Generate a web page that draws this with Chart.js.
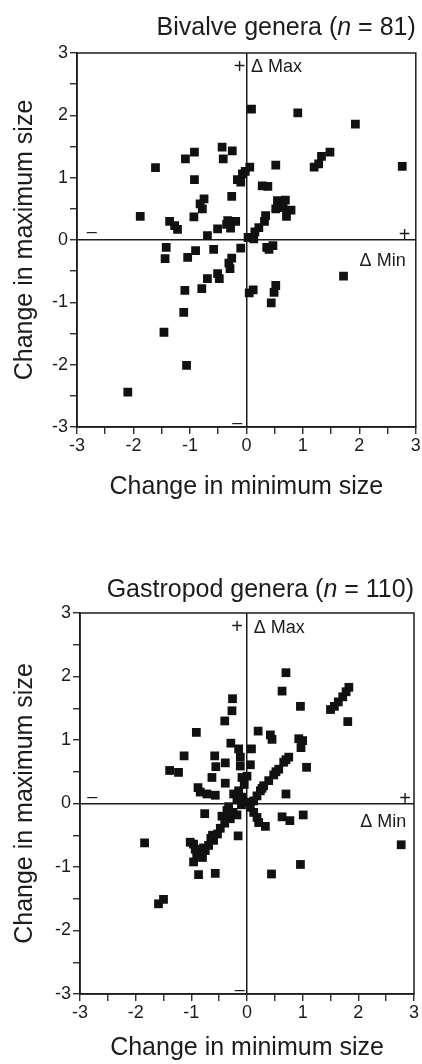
<!DOCTYPE html>
<html>
<head>
<meta charset="utf-8">
<script src="https://cdn.jsdelivr.net/npm/chart.js@4"></script>
<style>
    body { margin: 0; background: #fff; width: 422px; height: 1064px; overflow: hidden; position: relative; }
    .box { position: absolute; left: 0; width: 422px; }
</style>
</head>
<body>
<div class="box" style="top:0;height:520px"><canvas id="bivalveChart"></canvas></div>
<div class="box" style="top:545px;height:519px"><canvas id="gastropodChart"></canvas></div>
<script>
// Bivalve genera: change in minimum size (x) and maximum size (y)
const bivalveMin = [0.09, 0.91, 1.93, -1.08, -0.92, -0.43, -0.25, -0.41, 1.33, 1.48,
    -1.61, 0.06, 0.52, 1.20, 1.28, 2.76, -0.92, -0.16, -0.07, -0.02,
    -0.10, 0.28, 0.38, -0.26, -0.75, -0.82, -0.78, -0.93, -1.88, -1.36,
    -1.27, -1.22, -0.33, -0.19, -0.28, -0.51, -0.69, 0.55, 0.69, 0.65,
    0.79, 0.71, 0.52, 0.34, 0.32, 0.22, 0.15, 0.03, -1.42, -1.44,
    -1.04, -0.90, -0.58, -0.10, 0.36, 0.47, -0.26, -0.31, -0.29, -0.51,
    -0.69, -0.48, -0.79, -1.09, -1.11, 0.05, 0.12, 0.52, 0.49, 0.44,
    1.72, -1.46, -1.06, -2.10, 0.13, 0.40, 0.60, -0.35];
const bivalveMax = [2.10, 2.04, 1.86, 1.30, 1.41, 1.49, 1.43, 1.30, 1.34, 1.41,
    1.16, 1.17, 1.20, 1.17, 1.22, 1.18, 0.97, 0.97, 1.06, 1.10,
    0.93, 0.87, 0.86, 0.70, 0.66, 0.58, 0.50, 0.37, 0.38, 0.30,
    0.23, 0.17, 0.31, 0.30, 0.19, 0.18, 0.07, 0.63, 0.64, 0.52,
    0.48, 0.38, 0.50, 0.39, 0.30, 0.20, 0.13, 0.04, -0.12, -0.30,
    -0.28, -0.17, -0.15, -0.13, -0.12, -0.09, -0.29, -0.37, -0.46, -0.54,
    -0.62, -0.62, -0.78, -0.81, -1.16, -0.85, -0.80, -0.73, -0.84, -1.01,
    -0.58, -1.48, -2.01, -2.44, 0.02, -0.15, 0.58, 0.25];

// Gastropod genera
const gastropodMin = [0.70, 0.63, -0.26, 1.83, 1.78, 1.72, 1.64, 1.57, 1.50, -0.27,
    -0.40, 0.96, 1.81, -0.91, 0.20, 0.42, 0.45, 0.93, 1.00, 0.97,
    -0.29, -0.15, 0.08, -1.13, -0.58, -0.39, -0.56, -0.12, -0.12, 0.06,
    0.75, 0.66, 0.57, 0.48, 0.39, 0.30, 0.24, 0.18, 0.12, 1.07,
    -1.39, -1.23, -0.63, -0.09, 0.00, -0.39, -0.88, -0.84, -0.72, -0.57,
    -0.24, -0.15, -0.18, -0.09, 0.70, 0.00, 0.06, 0.12, 0.18, 0.21,
    0.33, 0.63, 0.77, 1.01, -0.76, -0.18, -0.36, -0.30, -0.40, -0.48,
    -0.53, -0.16, -0.60, -0.69, -0.78, -0.96, -1.02, -0.90, -1.84, 2.77,
    -0.93, -0.75, -0.90, -0.96, -0.87, -0.57, -1.59, -1.50, 0.44, 0.96,
    -0.33, -0.45, -0.05, -0.80, -0.65, -0.10, -0.25, -0.62, 0.27, 0.52,
    0.70];
const gastropodMax = [2.06, 1.77, 1.65, 1.83, 1.76, 1.68, 1.60, 1.53, 1.48, 1.46,
    1.30, 1.53, 1.29, 1.12, 1.14, 1.08, 1.01, 1.02, 0.99, 0.88,
    0.95, 0.86, 0.86, 0.75, 0.75, 0.64, 0.58, 0.73, 0.59, 0.61,
    0.73, 0.65, 0.54, 0.45, 0.36, 0.28, 0.20, 0.12, 0.04, 0.57,
    0.52, 0.49, 0.41, 0.41, 0.43, 0.32, 0.25, 0.18, 0.15, 0.13,
    0.15, 0.20, 0.07, 0.10, 0.15, 0.02, -0.06, -0.14, -0.22, -0.30,
    -0.36, -0.21, -0.27, -0.18, -0.16, -0.18, -0.11, -0.24, -0.31, -0.39,
    -0.48, -0.51, -0.58, -0.66, -0.70, -0.64, -0.61, -0.77, -0.62, -0.65,
    -0.72, -0.74, -0.82, -0.92, -1.12, -1.10, -1.58, -1.51, -1.11, -0.96,
    -0.05, -0.20, 0.30, -0.85, -0.55, -0.02, -0.14, -0.50, 0.24, 0.50,
    0.69];

const axisMin = -3;
const axisMax = 3;

const ink = '#1c1c1c';
const fontFamily = "'Liberation Sans', Arial, Helvetica, sans-serif";
Chart.defaults.font.family = fontFamily;
Chart.defaults.color = ink;

// frame round the plot area
const framePlugin = {
    id: 'frame',
    afterDraw(chart) {
        const a = chart.chartArea;
        const ctx = chart.ctx;
        ctx.save();
        ctx.strokeStyle = ink;
        ctx.lineWidth = 1.5;
        ctx.strokeRect(a.left, a.top, a.right - a.left, a.bottom - a.top);
        ctx.restore();
    }
};

function makeChart(id, mins, maxs, title, cfg) {
    const points = mins.map((m, i) => ({ x: m, y: maxs[i] }));
    const xs = cfg.labels;

    const extras = {
        id: 'extras',
        afterDraw(chart) {
            const ctx = chart.ctx;
            const sx = chart.scales.x, sy = chart.scales.y;
            ctx.save();
            ctx.fillStyle = ink;
            // title with italic n, right aligned to plot
            const big = '25px ' + fontFamily;
            const ital = 'italic 25px ' + fontFamily;
            ctx.font = big;
            const w1 = ctx.measureText(title[0]).width;
            const w3 = ctx.measureText(title[2]).width;
            ctx.font = ital;
            const w2 = ctx.measureText(title[1]).width;
            let x = chart.chartArea.right - (w1 + w2 + w3);
            const y = cfg.titleY;
            ctx.textBaseline = 'middle';
            ctx.textAlign = 'left';
            ctx.font = big; ctx.fillText(title[0], x, y); x += w1;
            ctx.font = ital; ctx.fillText(title[1], x, y); x += w2;
            ctx.font = big; ctx.fillText(title[2], x, y);
            // quadrant signs
            xs.forEach(l => {
                ctx.font = l.size + 'px ' + fontFamily;
                ctx.textAlign = l.align;
                ctx.fillText(l.text, sx.getPixelForValue(l.x), sy.getPixelForValue(l.y));
            });
            ctx.restore();
        }
    };

    return new Chart(document.getElementById(id), {
        type: 'scatter',
        data: {
            datasets: [{
                data: points,
                pointStyle: 'rect',
                pointRadius: 6.2,
                pointHoverRadius: 6.2,
                backgroundColor: '#111',
                borderWidth: 0
            }]
        },
        options: {
            responsive: true,
            maintainAspectRatio: false,
            animation: false,
            layout: { padding: { top: cfg.padTop, right: cfg.padRight, left: 0, bottom: 0 } },
            plugins: { legend: { display: false }, tooltip: { enabled: false } },
            scales: {
                x: {
                    type: 'linear',
                    min: axisMin,
                    max: axisMax,
                    afterFit(s) { s.height = cfg.xHeight; },
                    ticks: {
                        stepSize: 0.5,
                        autoSkip: false,
                        maxRotation: 0,
                        padding: 1,
                        font: { size: 18 },
                        color: ink,
                        callback: v => Number.isInteger(v) ? String(v) : ''
                    },
                    grid: {
                        color: c => (c.tick && c.tick.value === 0) ? ink : 'rgba(0,0,0,0)',
                        lineWidth: 1.5,
                        tickColor: ink,
                        tickLength: 7,
                        tickWidth: 1.3
                    },
                    border: { color: ink, width: 1.5 },
                    title: {
                        display: true,
                        text: 'Change in minimum size',
                        font: { size: 25 },
                        color: ink,
                        padding: { top: 0, bottom: cfg.xTitlePad }
                    }
                },
                y: {
                    type: 'linear',
                    min: axisMin,
                    max: axisMax,
                    afterFit(s) { s.width = cfg.yWidth; },
                    ticks: {
                        stepSize: 0.5,
                        autoSkip: false,
                        padding: 2,
                        font: { size: 18 },
                        color: ink,
                        callback: v => Number.isInteger(v) ? String(v) : ''
                    },
                    grid: {
                        color: c => (c.tick && c.tick.value === 0) ? ink : 'rgba(0,0,0,0)',
                        lineWidth: 1.5,
                        tickColor: ink,
                        tickLength: 7,
                        tickWidth: 1.3
                    },
                    border: { color: ink, width: 1.5 },
                    title: {
                        display: true,
                        text: 'Change in maximum size',
                        font: { size: 25 },
                        color: ink,
                        padding: { top: 10, bottom: 0 }
                    }
                }
            }
        },
        plugins: [framePlugin, extras]
    });
}

const bivalveLabels = [
    { text: '+', x: -0.12, y: 2.77, align: 'center', size: 20 },
    { text: '\u0394 Max', x: 0.08, y: 2.77, align: 'left', size: 18 },
    { text: '\u2013', x: -2.74, y: 0.13, align: 'center', size: 18 },
    { text: '+', x: 2.80, y: 0.07, align: 'center', size: 20 },
    { text: '\u0394 Min', x: 2.82, y: -0.33, align: 'right', size: 18 },
    { text: '\u2013', x: -0.16, y: -2.93, align: 'center', size: 18 }
];
const gastropodLabels = [
    { text: '+', x: -0.18, y: 2.77, align: 'center', size: 20 },
    { text: '\u0394 Max', x: 0.12, y: 2.77, align: 'left', size: 18 },
    { text: '\u2013', x: -2.78, y: 0.10, align: 'center', size: 18 },
    { text: '+', x: 2.84, y: 0.07, align: 'center', size: 20 },
    { text: '\u0394 Min', x: 2.86, y: -0.29, align: 'right', size: 18 },
    { text: '\u2013', x: -0.13, y: -2.93, align: 'center', size: 18 }
];

makeChart('bivalveChart', bivalveMin, bivalveMax, ['Bivalve genera (', 'n', ' = 81)'], {
    labels: bivalveLabels, titleY: 28, padTop: 53, padRight: 4,
    xHeight: 93, yWidth: 77, xTitlePad: 18
});
makeChart('gastropodChart', gastropodMin, gastropodMax, ['Gastropod genera (', 'n', ' = 110)'], {
    labels: gastropodLabels, titleY: 45, padTop: 68, padRight: 8,
    xHeight: 70, yWidth: 80, xTitlePad: 1
});
</script>
</body>
</html>
